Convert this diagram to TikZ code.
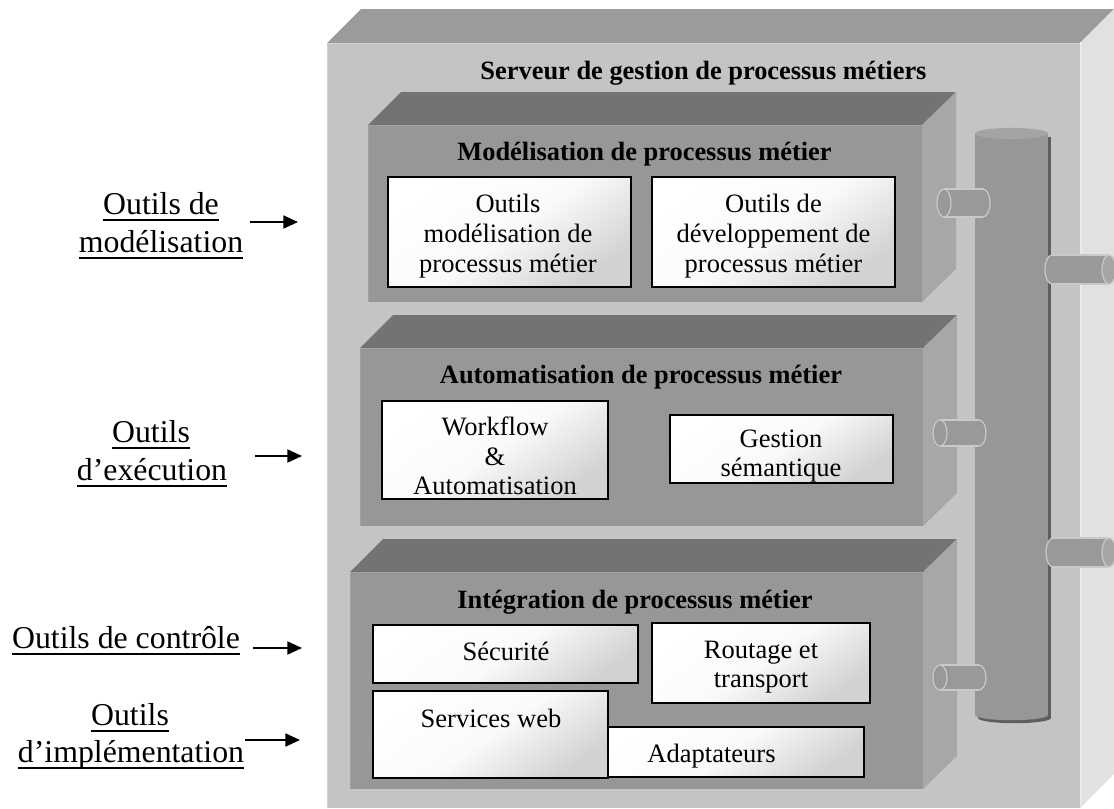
\documentclass[tikz,border=0pt]{standalone}
\usepackage{fontspec}
\setmainfont{Liberation Serif}
\usetikzlibrary{arrows.meta,fit}
\definecolor{bigfrontc}{HTML}{C4C4C4}
\definecolor{bigtopc}{HTML}{9B9B9B}
\definecolor{bigsidec}{HTML}{E1E1E1}
\definecolor{bighl}{HTML}{D0D0D0}
\definecolor{bxfrontc}{HTML}{979797}
\definecolor{bxtopc}{HTML}{737373}
\definecolor{bxsidec}{HTML}{A7A7A7}
\definecolor{bxhl}{HTML}{A2A2A2}
\definecolor{cylbodyc}{HTML}{979797}
\definecolor{cyltopc}{HTML}{A4A4A4}
\definecolor{cylshadowc}{HTML}{5E5E5E}
\definecolor{connfillc}{HTML}{999999}
\definecolor{connfacec}{HTML}{A6A6A6}
\definecolor{connlinec}{HTML}{C9C9C9}
\definecolor{wdarkc}{HTML}{D2D2D2}
\definecolor{wmidc}{HTML}{FAFAFA}
\newcommand\myul[1]{\leavevmode\setbox0\hbox{#1}\rlap{\copy0}\lower4.9pt\hbox to\wd0{\leaders\hrule height1.4pt\hfill}}
% layer: left, top, right, bottom, name
\newcommand\layerbox[5]{%
  \fill[bxtopc] (#1,#2) -- (#1+33,#2-33) -- (#3+34,#2-33) -- (#3,#2) -- cycle;
  \fill[bxsidec] (#3,#2) -- (#3+34,#2-33) -- (#3+34,#4-33) -- (#3,#4) -- cycle;
  \node[layerfront, fit={(#1,#2)(#3,#4)}] (#5) {};
  \draw[bxhl, line width=1pt] (#1+0.7,#4) -- (#1+0.7,#2+0.7) -- (#3,#2+0.7);
}
% connector with visible left face: xL, xR, cy, ry
\newcommand\connL[4]{%
  \filldraw[connpart] (#2,#3) ellipse [x radius=5.25pt, y radius=#4*0.75pt];
  \fill[connfillc] (#1,#3-#4) rectangle (#2,#3+#4);
  \draw[connlinec, line width=0.9pt] (#1,#3-#4) -- (#2,#3-#4) (#1,#3+#4) -- (#2,#3+#4);
  \filldraw[connpart] (#1,#3) ellipse [x radius=5.25pt, y radius=#4*0.75pt];
}
% connector with visible right face
\newcommand\connR[4]{%
  \filldraw[connpart] (#1,#3) ellipse [x radius=5.25pt, y radius=#4*0.75pt];
  \fill[connfillc] (#1,#3-#4) rectangle (#2,#3+#4);
  \draw[connlinec, line width=0.9pt] (#1,#3-#4) -- (#2,#3-#4) (#1,#3+#4) -- (#2,#3+#4);
  \filldraw[connpart, fill=connfacec] (#2,#3) ellipse [x radius=5.25pt, y radius=#4*0.75pt];
}
\begin{document}
\begin{tikzpicture}[x=0.75pt,y=-0.75pt,
  layerfront/.style={fill=bxfrontc, inner sep=0pt, outer sep=0pt},
  connpart/.style={fill=connfillc, draw=connlinec, line width=0.9pt},
  wbox/.style={draw=black, line width=1.2pt, inner sep=0pt, outer sep=0pt,
    top color=white, bottom color=wdarkc, middle color=wmidc, shading angle=35},
  txt/.style={font=\fontsize{19.9}{23}\selectfont, anchor=base, inner sep=0pt},
  ttl/.style={font=\fontsize{19.8}{23}\selectfont\bfseries, anchor=base, inner sep=0pt},
  lbl/.style={font=\fontsize{23.85}{28}\selectfont, anchor=base, inner sep=0pt},
  arr/.style={-{Triangle[length=11pt,width=9.75pt]}, line width=1.5pt},
]
\useasboundingbox (0,0) rectangle (1114,808);

% ---- big server box ----
\fill[bigtopc] (327,43) -- (361,9) -- (1114,9) -- (1080,43) -- cycle;
\fill[bigsidec] (1080,43) -- (1114,9) -- (1114,774) -- (1080,808) -- cycle;
\node[fill=bigfrontc, inner sep=0pt, outer sep=0pt, fit={(327,43)(1080,808)}] (server) {};
\draw[bighl, line width=1.1pt] (327.7,808) -- (327.7,43.7) -- (1080,43.7);
\draw[white!92!black, line width=1.5pt] (1081,42) -- (1081,808);
\node[ttl] (serverT) at (703.5,79) {Serveur de gestion de processus métiers};

% ---- layers ----
\layerbox{368}{125}{922}{302}{modl}
\layerbox{360}{348}{923}{526}{auto}
\layerbox{350}{572}{923}{789}{integ}

\node[ttl] (modlT) at (644.5,160) {Modélisation de processus métier};
\node[ttl] (autoT) at (641,383) {Automatisation de processus métier};
\node[ttl] (integT) at (635,608) {Intégration de processus métier};

% ---- bus cylinder ----
\fill[cylshadowc] (978,137) rectangle (1051,718);
\fill[cylshadowc] (1014.5,718) ellipse [x radius=27.375pt, y radius=3.9pt];
\fill[cylbodyc] (975,133.5) rectangle (1048,715);
\fill[cylbodyc] (1011.5,715) ellipse [x radius=27.375pt, y radius=3.9pt];
\fill[cyltopc] (1011.5,133.5) ellipse [x radius=27.375pt, y radius=4.2pt];

% ---- connectors ----
\connL{944}{983}{203}{14}
\connL{940}{979}{433}{13}
\connL{940}{979}{677.5}{12.5}
\connR{1052}{1109}{269.5}{14.5}
\connR{1053}{1109}{552.5}{14.5}

% ---- white boxes ----
\node[wbox, fit={(388,177)(631,287)}] (bA) {};
\node[txt] (bA1) at (508,212) {Outils};
\node[txt] (bA2) at (508,242) {modélisation de};
\node[txt] (bA3) at (508,272) {processus métier};

\node[wbox, fit={(652,177)(895,287)}] (bB) {};
\node[txt] (bB1) at (773.5,212) {Outils de};
\node[txt] (bB2) at (773.5,242) {développement de};
\node[txt] (bB3) at (773.5,272) {processus métier};

\node[wbox, fit={(382,401)(608,499)}] (bW) {};
\node[txt] (bW1) at (495,435) {Workflow};
\node[txt] (bW2) at (495,465) {\&};
\node[txt] (bW3) at (495,494) {Automatisation};

\node[wbox, fit={(670,415)(893,483)}] (bG) {};
\node[txt] (bG1) at (781,447) {Gestion};
\node[txt] (bG2) at (781,476) {sémantique};

\node[wbox, fit={(373,625)(638,683)}] (bS) {};
\node[txt] (bS1) at (506,660) {Sécurité};

\node[wbox, fit={(652,623)(870,703)}] (bR) {};
\node[txt] (bR1) at (761,658) {Routage et};
\node[txt] (bR2) at (761,687) {transport};

\node[wbox, fit={(590,727)(864,777)}] (bAd) {};
\node[txt] (bAd1) at (711.5,762) {Adaptateurs};

\node[wbox, fit={(373,691)(608,778)}] (bWeb) {};
\node[txt] (bWeb1) at (491,727) {Services web};

% ---- left labels and arrows ----
\node[lbl] (l1a) at (161,214) {\myul{Outils de}};
\node[lbl] (l1b) at (161,252) {\myul{modélisation}};
\node[lbl] (l2a) at (151,442) {\myul{Outils}};
\node[lbl] (l2b) at (152,480) {\myul{d’exécution}};
\node[lbl] (l3) at (126,648) {\myul{Outils de contrôle}};
\node[lbl] (l4a) at (130,725) {\myul{Outils}};
\node[lbl] (l4b) at (131,762) {\myul{d’implémentation}};

\coordinate (a1s) at (250,222);
\coordinate (a1e) at (298,222);
\coordinate (a2s) at (255,456);
\coordinate (a2e) at (302,456);
\coordinate (a3s) at (253,648);
\coordinate (a3e) at (302,648);
\coordinate (a4s) at (245,740);
\coordinate (a4e) at (300,740);
\draw[arr] (a1s) -- (a1e);
\draw[arr] (a2s) -- (a2e);
\draw[arr] (a3s) -- (a3e);
\draw[arr] (a4s) -- (a4e);
\end{tikzpicture}
\end{document}
